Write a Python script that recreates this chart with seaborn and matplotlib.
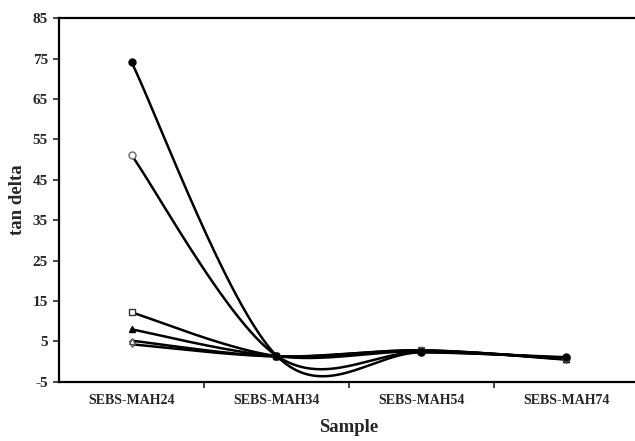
import numpy as np
import pandas as pd
import seaborn as sns
import matplotlib.pyplot as plt

sns.set_style("white")
plt.rcParams['font.family'] = ['Liberation Serif', 'DejaVu Serif']
plt.rcParams['font.weight'] = 'bold'
plt.rcParams['axes.unicode_minus'] = False

# data
samples = ["SEBS-MAH24", "SEBS-MAH34", "SEBS-MAH54", "SEBS-MAH74"]
s1 = [74.1, 1.5, 2.3, 1.1]
s2 = [51.1, 1.5, 2.4, 0.9]
s3 = [12.2, 1.4, 2.6, 0.8]
s4 = [8.0, 1.4, 2.7, 0.7]
s5 = [5.2, 1.3, 2.8, 0.6]
s6 = [4.3, 1.3, 2.8, 0.5]

series = [s6, s5, s4, s3, s2, s1]
markers = [
    dict(marker="v", mfc="white", mec="#555555"),
    dict(marker="^", mfc="white", mec="#555555"),
    dict(marker="^", mfc="black", mec="black"),
    dict(marker="s", mfc="white", mec="#333333"),
    dict(marker="o", mfc="white", mec="#666666"),
    dict(marker="o", mfc="black", mec="black"),
]


def smooth(y, n=60):
    # excel style bezier smoothing through the points
    x = np.arange(len(y), dtype=float)
    y = np.asarray(y, dtype=float)
    pts = np.column_stack([x, y])
    xs, ys = [], []
    for i in range(len(pts) - 1):
        p0 = pts[i - 1] if i > 0 else pts[i]
        p3 = pts[i + 2] if i + 2 < len(pts) else pts[i + 1]
        c1 = pts[i] + (pts[i + 1] - p0) / 6
        c2 = pts[i + 1] - (p3 - pts[i]) / 6
        t = np.linspace(0, 1, n)[:, None]
        b = ((1 - t) ** 3 * pts[i] + 3 * (1 - t) ** 2 * t * c1
             + 3 * (1 - t) * t ** 2 * c2 + t ** 3 * pts[i + 1])
        xs.extend(b[:, 0])
        ys.extend(b[:, 1])
    return xs, ys


fig = plt.figure(figsize=(6.35, 4.41), dpi=100)
ax = fig.add_axes([0.093, 0.134, 0.913, 0.825])

for k, s in enumerate(series):
    xs, ys = smooth(s)
    df = pd.DataFrame({"x": xs, "y": ys})
    sns.lineplot(data=df, x="x", y="y", ax=ax, color="black", lw=1.8,
                 sort=False, estimator=None)
    ax.plot(range(len(samples)), s, ls="none", ms=5, mew=1, **markers[k])

ax.set_xlim(-0.5, 3.5)
ax.set_ylim(-5, 85)
ax.set_yticks(range(-5, 86, 10))
ax.set_xticks(range(len(samples)))
ax.set_xticklabels(samples, fontsize=10, fontweight="bold")
ax.set_xticks([0.5, 1.5, 2.5], minor=True)
ax.tick_params(axis="x", which="major", length=0, pad=9)
ax.tick_params(axis="x", which="minor", length=4, width=1.2, direction="out",
               bottom=True)
ax.tick_params(axis="y", length=4, width=1.2, direction="out", left=True,
               labelsize=11, pad=4)
for lab in ax.get_yticklabels():
    lab.set_fontweight("bold")
for sp in ax.spines.values():
    sp.set_linewidth(1.6)
    sp.set_color("black")
ax.set_xlabel("Sample", fontsize=13.5, fontweight="bold", labelpad=8)
ax.set_ylabel("tan delta", fontsize=13.5, fontweight="bold", labelpad=5)

fig.savefig("out.png", dpi=100)
